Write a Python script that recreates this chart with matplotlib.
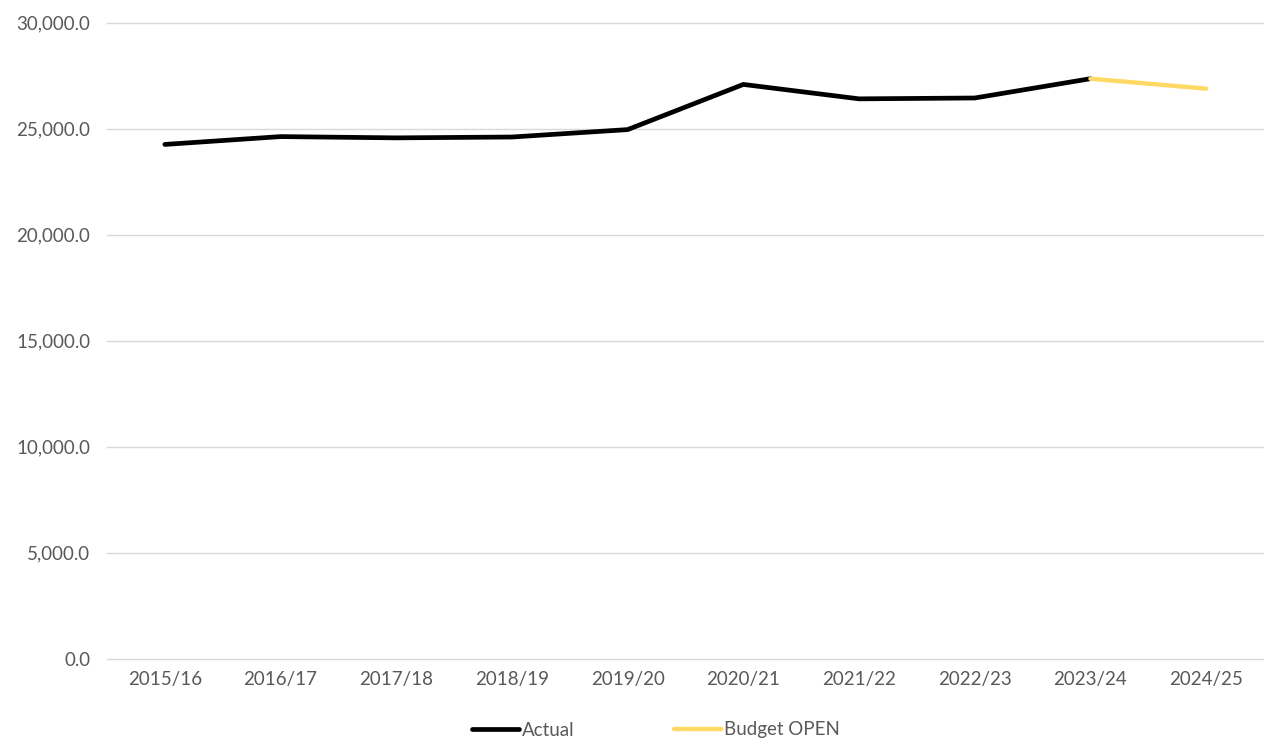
import numpy as np
import matplotlib.pyplot as plt
from matplotlib.ticker import FuncFormatter

years = ['2015/16', '2016/17', '2017/18', '2018/19', '2019/20',
         '2020/21', '2021/22', '2022/23', '2023/24', '2024/25']
actual = [24250, 24620, 24560, 24600, 24950, 27080, 26400, 26440, 27350, np.nan]
budget_open = [np.nan] * 8 + [27350, 26880]

plt.rcParams['font.family'] = ['Lato', 'DejaVu Sans']

fig = plt.figure(figsize=(12.64, 7.41), dpi=100)
ax = fig.add_axes([107 / 1264, 1 - 658.7 / 741, 1 - 107 / 1264, (658.7 - 22.5) / 741])

x = np.arange(len(years))
ax.plot(x, actual, color='black', lw=3.4, solid_capstyle='round', label='Actual', zorder=3)
ax.plot(x, budget_open, color='#FFD966', lw=3.2, solid_capstyle='round', label='Budget OPEN', zorder=3)

ax.set_xlim(-0.5, len(years) - 0.5)
ax.set_ylim(0, 30000)
ax.set_yticks(np.arange(0, 30001, 5000))
ax.yaxis.set_major_formatter(FuncFormatter(lambda v, p: '{:,.1f}'.format(v)))
ax.set_xticks(x)
ax.set_xticklabels(years)

ax.grid(axis='y', color='#D9D9D9', lw=1)
for gl in ax.get_ygridlines():
    gl.set_clip_on(False)
ax.set_axisbelow(True)
for s in ax.spines.values():
    s.set_visible(False)
ax.tick_params(axis='both', length=0, labelsize=13.5, labelcolor='#595959')
ax.tick_params(axis='y', pad=12)
ax.tick_params(axis='x', pad=9)

fig.legend(loc='center', bbox_to_anchor=(0.519, 1 - 730 / 741), ncol=2,
           frameon=False, fontsize=13.5, labelcolor='#595959', handlelength=2.5,
           handletextpad=0.15, columnspacing=5.3, borderpad=0)

fig.savefig('out.png', dpi=100)
